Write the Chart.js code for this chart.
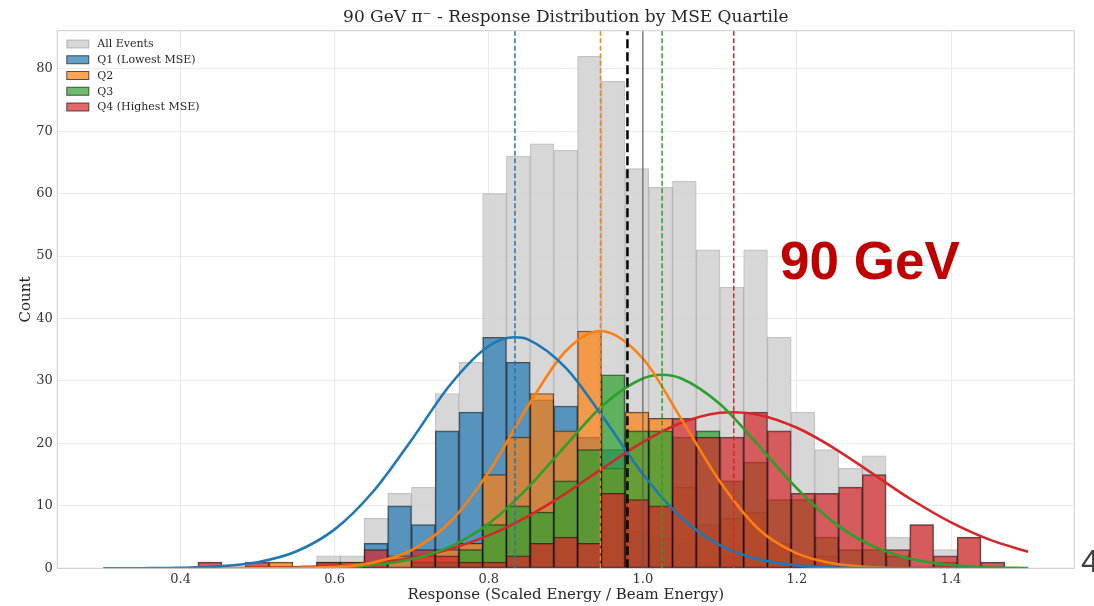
<!DOCTYPE html>
<html>
<head>
<meta charset="utf-8">
<title>Response Distribution by MSE Quartile</title>
<script src="https://cdn.jsdelivr.net/npm/chart.js@4.4.1/dist/chart.umd.min.js"></script>
<style>
  html, body { margin: 0; padding: 0; background: #ffffff; }
  #wrap { position: relative; width: 1094px; height: 606px; }
</style>
</head>
<body>
<div id="wrap"><canvas id="responseChart" width="1094" height="606"></canvas></div>
<script>
// --- HISTOGRAM BINS (centres, width 0.0308) ---
const binCenters = [
  0.4379, 0.4687, 0.4995, 0.5303, 0.5611, 0.5919, 0.6227, 0.6535, 0.6843, 0.7151,
  0.7459, 0.7767, 0.8075, 0.8383, 0.8691, 0.8999, 0.9307, 0.9615, 0.9923, 1.0231,
  1.0539, 1.0847, 1.1155, 1.1463, 1.1771, 1.2079, 1.2387, 1.2695, 1.3003, 1.3311,
  1.3619, 1.3927, 1.4235, 1.4543
];

// --- COUNTS PER BIN ---
const allEvents = [1, 0, 1, 1, 0, 2, 2, 8, 12, 13, 28, 33, 60, 66, 68, 67, 82, 78, 64, 61, 62, 51, 45, 51, 37, 25, 19, 16, 18, 5, 7, 3, 5, 1];
const q1Counts  = [0, 0, 0, 0, 0, 0, 0, 4, 10, 7, 22, 25, 37, 33, 27, 26, 21, 19, 6, 5, 4, 1, 2, 0, 0, 0, 0, 0, 0, 0, 0, 0, 0, 0];
const q2Counts  = [0, 0, 0, 1, 0, 0, 1, 1, 2, 2, 3, 4, 15, 21, 28, 22, 38, 16, 25, 24, 13, 7, 8, 9, 4, 2, 2, 0, 0, 0, 0, 0, 0, 0];
const q3Counts  = [0, 0, 0, 0, 0, 1, 1, 0, 0, 1, 1, 3, 7, 10, 9, 14, 19, 31, 22, 22, 21, 22, 14, 17, 11, 11, 5, 3, 3, 2, 0, 1, 0, 0];
const q4Counts  = [1, 0, 1, 0, 0, 1, 0, 3, 0, 3, 2, 1, 1, 2, 4, 5, 4, 12, 11, 10, 24, 21, 21, 25, 22, 12, 12, 13, 15, 3, 7, 2, 5, 1];

const seriesLabels = ['All Events', 'Q1 (Lowest MSE)', 'Q2', 'Q3', 'Q4 (Highest MSE)'];

// --- GAUSSIAN FITS ---
const q1FitX = [0.30, 0.35, 0.40, 0.45, 0.50, 0.55, 0.60, 0.65, 0.70, 0.75, 0.80, 0.834, 0.85, 0.90, 0.95, 1.00, 1.05, 1.10, 1.15, 1.20, 1.25, 1.30, 1.35, 1.40, 1.45, 1.50];
const q1FitY = [0.0, 0.02, 0.08, 0.31, 0.98, 2.69, 6.23, 12.3, 20.6, 29.4, 35.6, 37.0, 36.7, 32.1, 23.9, 15.1, 8.1, 3.71, 1.44, 0.47, 0.13, 0.03, 0.01, 0, 0, 0];
const q2FitX = [0.30, 0.35, 0.40, 0.45, 0.50, 0.55, 0.60, 0.65, 0.70, 0.75, 0.80, 0.85, 0.90, 0.945, 1.00, 1.05, 1.10, 1.15, 1.20, 1.25, 1.30, 1.35, 1.40, 1.45, 1.50];
const q2FitY = [0, 0, 0, 0, 0.01, 0.05, 0.23, 0.91, 2.9, 7.45, 15.4, 25.8, 34.8, 38.0, 33.6, 23.9, 13.9, 6.3, 2.4, 0.71, 0.17, 0.03, 0, 0, 0];
const q3FitX = [0.30, 0.35, 0.40, 0.45, 0.50, 0.55, 0.60, 0.65, 0.70, 0.75, 0.80, 0.85, 0.90, 0.95, 1.00, 1.025, 1.05, 1.10, 1.15, 1.20, 1.25, 1.30, 1.35, 1.40, 1.45, 1.50];
const q3FitY = [0, 0, 0, 0, 0.01, 0.05, 0.17, 0.53, 1.45, 3.47, 7.15, 12.8, 19.7, 26.3, 30.4, 31.0, 30.4, 26.3, 19.7, 12.8, 7.15, 3.47, 1.45, 0.53, 0.17, 0.05];
const q4FitX = [0.30, 0.35, 0.40, 0.45, 0.50, 0.55, 0.60, 0.65, 0.70, 0.75, 0.80, 0.85, 0.90, 0.95, 1.00, 1.05, 1.10, 1.118, 1.15, 1.20, 1.25, 1.30, 1.35, 1.40, 1.45, 1.50];
const q4FitY = [0, 0, 0.01, 0.03, 0.07, 0.18, 0.40, 0.86, 1.70, 3.11, 5.27, 8.28, 12.0, 16.2, 20.2, 23.3, 24.9, 25.0, 24.6, 22.5, 19.1, 15.0, 10.9, 7.36, 4.59, 2.65];

// --- REFERENCE LINES ---
const quartileMeans = [0.834, 0.945, 1.025, 1.118];
const overallMean = 0.980;
const unitResponse = 1.0;

// --- AXES ---
const xMin = 0.24, xMax = 1.56, xStep = 0.2;
const yMax = 86.1, yStep = 10;

// --- COLOURS ---
const quartileColors = ['#1f77b4', '#ff7f0e', '#2ca02c', '#d62728'];
const quartileFills = ['rgba(31,119,180,0.7)', 'rgba(255,127,14,0.7)', 'rgba(44,160,44,0.7)', 'rgba(214,39,40,0.7)'];
const serifFont = '"DejaVu Serif", "Liberation Serif", serif';

Chart.defaults.font.family = serifFont;
Chart.defaults.color = '#262626';

// only non-empty bins become bars
const toBars = counts => binCenters
  .map((x, i) => ({ x: x, y: counts[i] }))
  .filter(p => p.y > 0);
const toPoints = (xs, ys) => xs.map((x, i) => ({ x: x, y: ys[i] }));

function barSet(label, counts, fill, edge, order) {
  return {
    type: 'bar', label: label, data: toBars(counts),
    backgroundColor: fill, borderColor: edge, borderWidth: 1, borderSkipped: false,
    grouped: false, barPercentage: 1, categoryPercentage: 1, order: order
  };
}

function fitSet(xs, ys, color) {
  return {
    type: 'line', data: toPoints(xs, ys), borderColor: color, borderWidth: 2.6,
    pointRadius: 0, cubicInterpolationMode: 'monotone', fill: false, order: 2
  };
}

function vline(x, color, width, dash) {
  return {
    type: 'line', data: [{ x: x, y: 0 }, { x: x, y: yMax }], borderColor: color,
    borderWidth: width, borderDash: dash, pointRadius: 0, fill: false, order: 1
  };
}

const barSets = [
  barSet(seriesLabels[0], allEvents, 'rgba(211,211,211,0.9)', 'rgba(120,120,120,0.45)', 10),
  barSet(seriesLabels[1], q1Counts, quartileFills[0], 'rgba(20,20,20,0.7)', 9),
  barSet(seriesLabels[2], q2Counts, quartileFills[1], 'rgba(20,20,20,0.7)', 8),
  barSet(seriesLabels[3], q3Counts, quartileFills[2], 'rgba(20,20,20,0.7)', 7),
  barSet(seriesLabels[4], q4Counts, quartileFills[3], 'rgba(20,20,20,0.7)', 6)
];

const fitSets = [
  fitSet(q1FitX, q1FitY, quartileColors[0]),
  fitSet(q2FitX, q2FitY, quartileColors[1]),
  fitSet(q3FitX, q3FitY, quartileColors[2]),
  fitSet(q4FitX, q4FitY, quartileColors[3])
];

const lineSets = quartileMeans.map((m, i) => vline(m, quartileColors[i], 1.5, [5, 2.5]));
lineSets.push(vline(overallMean, '#000000', 2.5, [9, 4]));
lineSets.push(vline(unitResponse, 'rgba(90,90,90,0.75)', 1.5, []));

// frame, legend and the energy label drawn on top of the plot
const overlayPlugin = {
  id: 'overlay',
  afterDraw(chart) {
    const { ctx, chartArea: a } = chart;
    ctx.save();
    ctx.strokeStyle = '#cccccc';
    ctx.lineWidth = 1;
    ctx.strokeRect(a.left, a.top, a.right - a.left, a.bottom - a.top);

    ctx.font = '11px ' + serifFont;
    ctx.textBaseline = 'middle';
    ctx.textAlign = 'left';
    barSets.forEach((ds, i) => {
      const y = a.top + 13.3 + i * 15.75;
      ctx.fillStyle = ds.backgroundColor;
      ctx.fillRect(a.left + 9.5, y - 4, 22, 8);
      ctx.strokeStyle = ds.borderColor;
      ctx.strokeRect(a.left + 9.5, y - 4, 22, 8);
      ctx.fillStyle = '#262626';
      ctx.fillText(ds.label, a.left + 40, y + 0.5);
    });

    ctx.textBaseline = 'alphabetic';
    ctx.font = 'bold 53px "Liberation Sans", Arial, sans-serif';
    ctx.fillStyle = '#c00000';
    ctx.fillText('90 GeV', 780, 279);

    ctx.font = '32px "Liberation Sans", Arial, sans-serif';
    ctx.fillStyle = '#404040';
    ctx.fillText('4', 1081, 572);
    ctx.restore();
  }
};

new Chart(document.getElementById('responseChart'), {
  type: 'bar',
  data: { datasets: [...barSets, ...fitSets, ...lineSets] },
  plugins: [overlayPlugin],
  options: {
    responsive: false,
    animation: false,
    layout: { padding: { left: 0, right: 19.7, top: 0, bottom: 0 } },
    plugins: {
      legend: { display: false },
      tooltip: { enabled: false },
      title: {
        display: true,
        fullSize: false,
        text: '90 GeV π⁻ - Response Distribution by MSE Quartile',
        font: { size: 17, weight: 'normal', family: serifFont },
        color: '#262626',
        padding: { top: 7.5, bottom: 2.8 }
      }
    },
    scales: {
      x: {
        type: 'linear', min: xMin, max: xMax, offset: false,
        grid: { color: '#ebebeb', drawTicks: false, offset: false },
        border: { display: false },
        ticks: {
          stepSize: xStep, includeBounds: false, padding: 4,
          font: { size: 13 }, color: '#333333',
          callback: v => v.toFixed(1)
        },
        title: {
          display: true, text: 'Response (Scaled Energy / Beam Energy)',
          font: { size: 15 }, color: '#262626', padding: { top: 0, bottom: 1.5 }
        },
        afterFit: scale => { scale.height = 37.7; }
      },
      y: {
        type: 'linear', min: 0, max: yMax,
        grid: { color: '#ebebeb', drawTicks: false },
        border: { display: false },
        ticks: { stepSize: yStep, includeBounds: false, padding: 4.6, font: { size: 13 }, color: '#333333' },
        title: {
          display: true, text: 'Count',
          font: { size: 15 }, color: '#262626', padding: { top: 17, bottom: 0 }
        },
        afterFit: scale => { scale.width = 57.3; }
      }
    }
  }
});
</script>
</body>
</html>
